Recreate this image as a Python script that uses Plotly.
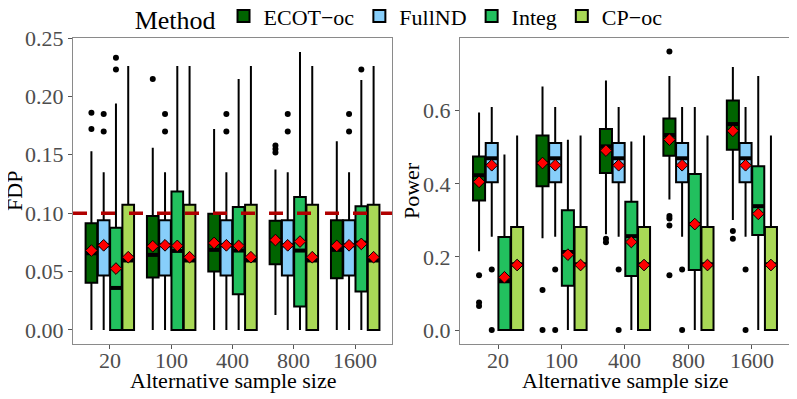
import plotly.graph_objects as go
from plotly.subplots import make_subplots

# sample sizes on the x axis
sizes = ["20", "100", "400", "800", "1600"]
methods = ["ECOT\u2212oc", "FullND", "Integ", "CP\u2212oc"]
colors = ["#006400", "#87CEFA", "#22C05E", "#A9D856"]

# FDP panel: box stats per method (one value per sample size)
fdp_q1 = [
    [0.0404, 0.045, 0.050, 0.0563, 0.0444],
    [0.0467, 0.0467, 0.0467, 0.0467, 0.0467],
    [0.0, 0.0, 0.0307, 0.0202, 0.033],
    [0.0, 0.0, 0.0, 0.0, 0.0],
]
fdp_med = [
    [0.0657, 0.0643, 0.0686, 0.0768, 0.0686],
    [0.0725, 0.0725, 0.0725, 0.0725, 0.0725],
    [0.036, 0.0677, 0.068, 0.068, 0.0748],
    [0.0595, 0.0595, 0.0595, 0.0595, 0.0595],
]
fdp_q3 = [
    [0.0913, 0.0975, 0.0995, 0.0936, 0.094],
    [0.094, 0.094, 0.094, 0.094, 0.094],
    [0.0876, 0.1186, 0.1052, 0.1138, 0.106],
    [0.1072, 0.1072, 0.1072, 0.1072, 0.1072],
]
fdp_lo = [
    [0.0, 0.0, 0.0, 0.0128, 0.0],
    [0.0, 0.0, 0.0, 0.0, 0.0],
    [0.0, 0.0, 0.0, 0.0, 0.0],
    [0.0, 0.0, 0.0, 0.0, 0.0],
]
fdp_hi = [
    [0.153, 0.156, 0.172, 0.1374, 0.1616],
    [0.135, 0.135, 0.135, 0.135, 0.135],
    [0.194, 0.226, 0.215, 0.238, 0.214],
    [0.226, 0.226, 0.226, 0.226, 0.226],
]
fdp_mean = [
    [0.068, 0.0717, 0.0745, 0.077, 0.072],
    [0.0725, 0.0725, 0.0725, 0.0725, 0.0725],
    [0.0526, 0.072, 0.072, 0.0757, 0.0737],
    [0.0623, 0.0623, 0.0623, 0.0623, 0.0623],
]
fdp_out = [
    [[0.186, 0.172], [0.215], [], [0.158, 0.155, 0.152], []],
    [[0.185, 0.170], [0.185, 0.170], [0.185, 0.170], [0.185, 0.170], [0.185, 0.170]],
    [[0.233, 0.223], [], [], [], [0.223]],
    [[], [], [], [], []],
]

# Power panel
pow_q1 = [
    [0.3545, 0.3936, 0.43, 0.477, 0.4936],
    [0.4045, 0.4045, 0.4045, 0.4045, 0.4045],
    [0.0, 0.121, 0.148, 0.1645, 0.26],
    [0.0, 0.0, 0.0, 0.0, 0.0],
]
pow_med = [
    [0.4236, 0.457, 0.5026, 0.5336, 0.5636],
    [0.47, 0.47, 0.47, 0.47, 0.47],
    [0.1336, 0.2136, 0.257, 0.29, 0.339],
    [0.18, 0.18, 0.18, 0.18, 0.18],
]
pow_q3 = [
    [0.475, 0.532, 0.55, 0.579, 0.628],
    [0.512, 0.512, 0.512, 0.512, 0.512],
    [0.2545, 0.328, 0.351, 0.427, 0.448],
    [0.2818, 0.2818, 0.2818, 0.2818, 0.2818],
]
pow_lo = [
    [0.216, 0.251, 0.262, 0.357, 0.301],
    [0.2555, 0.2555, 0.2555, 0.2555, 0.2555],
    [0.0, 0.0, 0.0, 0.0, 0.0],
    [0.0, 0.0, 0.0, 0.0, 0.0],
]
pow_hi = [
    [0.595, 0.666, 0.683, 0.695, 0.72],
    [0.61, 0.61, 0.61, 0.61, 0.61],
    [0.48, 0.521, 0.516, 0.61, 0.695],
    [0.532, 0.532, 0.532, 0.532, 0.532],
]
pow_mean = [
    [0.4055, 0.457, 0.491, 0.521, 0.545],
    [0.451, 0.451, 0.451, 0.451, 0.451],
    [0.1445, 0.2064, 0.241, 0.29, 0.318],
    [0.178, 0.178, 0.178, 0.178, 0.178],
]
pow_out = [
    [[0.15, 0.0755, 0.066], [0.11, 0.0], [0.25, 0.24],
     [0.762, 0.312, 0.305, 0.286, 0.15], [0.271, 0.25]],
    [[0.166, 0.0], [0.166, 0.0], [0.166, 0.0], [0.166, 0.0], [0.166, 0.0]],
    [[], [], [], [], []],
    [[], [], [], [], []],
]

fdp_target = 0.1

offsets = [-0.3, -0.1, 0.1, 0.3]
bw = 0.19
FONT = "Liberation Serif, Times New Roman, serif"

fig = make_subplots(rows=1, cols=2)


def add_panel(col, q1, med, q3, lo, hi, mean, out):
    for k, m in enumerate(methods):
        pos = [i + 1 + offsets[k] for i in range(len(sizes))]
        fig.add_trace(go.Box(
            x=pos, q1=q1[k], median=med[k], q3=q3[k],
            lowerfence=lo[k], upperfence=hi[k],
            width=bw, whiskerwidth=0, name=m, legendgroup=m,
            showlegend=(col == 1), fillcolor=colors[k],
            line=dict(color="black", width=2), boxpoints=False,
            hoverinfo="skip",
        ), row=1, col=col)
        # thicker median bar like ggplot
        mx, my = [], []
        for p, v in zip(pos, med[k]):
            mx += [p - bw / 2, p + bw / 2, None]
            my += [v, v, None]
        fig.add_trace(go.Scatter(x=mx, y=my, mode="lines", showlegend=False,
                                 line=dict(color="black", width=4), hoverinfo="skip"),
                      row=1, col=col)
        ox, oy = [], []
        for p, vals in zip(pos, out[k]):
            ox += [p] * len(vals)
            oy += vals
        fig.add_trace(go.Scatter(x=ox, y=oy, mode="markers", showlegend=False,
                                 marker=dict(color="black", size=6)),
                      row=1, col=col)
        fig.add_trace(go.Scatter(x=pos, y=mean[k], mode="markers", showlegend=False,
                                 marker=dict(symbol="diamond", color="red", size=9,
                                             line=dict(color="black", width=1))),
                      row=1, col=col)


add_panel(1, fdp_q1, fdp_med, fdp_q3, fdp_lo, fdp_hi, fdp_mean, fdp_out)
add_panel(2, pow_q1, pow_med, pow_q3, pow_lo, pow_hi, pow_mean, pow_out)

# target FDP level
fig.add_shape(type="line", xref="x domain", yref="y", x0=0, x1=1,
              y0=fdp_target, y1=fdp_target, layer="above",
              line=dict(color="#B00000", width=3.5, dash="14px,14px"))

dom1 = [0.0824, 0.4867]
dom2 = [0.5729, 0.9911]

axis_common = dict(showgrid=False, zeroline=False, showline=True, mirror=True,
                   linecolor="#8a8a8a", linewidth=1, ticks="outside", ticklen=4,
                   tickcolor="#555555", automargin=False,
                   tickfont=dict(family=FONT, size=22, color="#4D4D4D"))

# x tick labels are drawn as annotations (placed closer to the axis)
fig.update_xaxes(axis_common, range=[0.4, 5.6], tickvals=list(range(1, 6)),
                 showticklabels=False)
fig.update_xaxes(domain=dom1, row=1, col=1)
fig.update_xaxes(domain=dom2, row=1, col=2)
fig.update_yaxes(axis_common, domain=[0, 1])
fig.update_yaxes(range=[-0.012, 0.25], tickvals=[0, 0.05, 0.1, 0.15, 0.2, 0.25],
                 tickformat=".2f", row=1, col=1)
fig.update_yaxes(range=[-0.038, 0.799], tickvals=[0, 0.2, 0.4, 0.6],
                 tickformat=".1f", row=1, col=2)

tick_font = dict(family=FONT, size=22, color="#4D4D4D")
for xr in ("x", "x2"):
    for i, s in enumerate(sizes):
        fig.add_annotation(text=s, xref=xr, yref="paper", x=i + 1, y=-0.0536,
                           xanchor="center", yanchor="middle", showarrow=False,
                           font=tick_font)

# axis titles
title_font = dict(family=FONT, size=22, color="black")
for dom in (dom1, dom2):
    fig.add_annotation(text="Alternative sample size", xref="paper", yref="paper",
                       x=(dom[0] + dom[1]) / 2, y=-0.118, xanchor="center",
                       yanchor="middle", showarrow=False, font=title_font)
fig.add_annotation(text="FDP", xref="paper", yref="paper", x=0.0076, y=0.5,
                   textangle=-90, xanchor="center", yanchor="middle",
                   showarrow=False, font=title_font)
fig.add_annotation(text="Power", xref="paper", yref="paper", x=0.5108, y=0.5,
                   textangle=-90, xanchor="center", yanchor="middle",
                   showarrow=False, font=title_font)

fig.update_layout(
    width=789, height=391,
    margin=dict(l=0, r=0, t=30, b=55, autoexpand=False),
    plot_bgcolor="white", paper_bgcolor="white",
    boxmode="overlay",
    font=dict(family=FONT, size=22, color="black"),
    legend=dict(orientation="h", x=0.497, xanchor="center", y=1.068, yanchor="middle",
                title=dict(text="Method", side="left"),
                font=dict(family=FONT, size=22), itemwidth=30,
                bgcolor="rgba(0,0,0,0)"),
)

fig.write_html("out.html")
